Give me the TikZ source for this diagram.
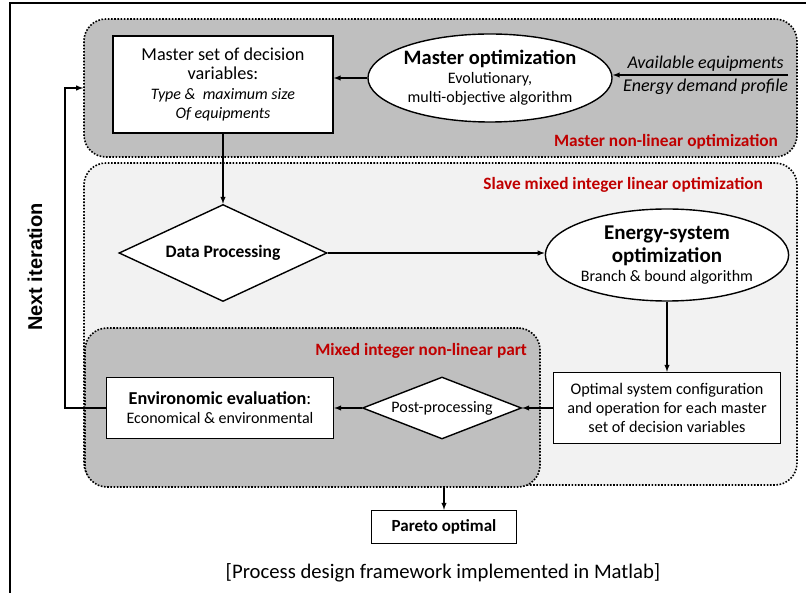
\documentclass[tikz,border=0pt]{standalone}
\usepackage{fontspec}
\setmainfont{Carlito}
\newfontfamily\arialfont{Liberation Sans}
\usetikzlibrary{shapes.geometric}

\definecolor{groupdark}{RGB}{191,191,191}
\definecolor{grouplight}{RGB}{242,242,242}
\definecolor{titlered}{RGB}{192,0,0}

\begin{document}
\begin{tikzpicture}[> = latex, x = 1pt, y = -1pt, line width = 1.4pt,
	box/.style = {draw, fill = white, align = center, inner sep = 2pt},
	oval/.style = {draw, ellipse, fill = white, align = center, inner sep = 0pt},
	decision/.style = {draw, diamond, fill = white, align = center, inner sep = 0pt},
	group/.style = {draw, rounded corners = 22pt, line width = 1.6pt, dash pattern = on 1.6pt off 1.6pt},
	grouptitle/.style = {anchor = east, text = titlered, font = \fontsize{17.3}{20}\selectfont\bfseries}]

	\useasboundingbox (0, 0) rectangle (806, 593);

	% Frame
	
	\draw [line width = 2.4pt] (806, 3) -| (10, 593);

	% Groups
	
		\node (master) [group, fill = groupdark, minimum width = 713, minimum height = 138] at (440.5, 88) {};
		\node (slave) [group, fill = grouplight, minimum width = 713, minimum height = 322] at (440.5, 324) {};
		\node (mixed) [group, fill = groupdark, minimum width = 455, minimum height = 159] at (312.5, 407.5) {};
		
		\node (mastertitle) [grouptitle] at (782, 142) {Master non-linear optimization};
		\node (slavetitle) [grouptitle] at (767, 185) {Slave mixed integer linear optimization};
		\node (mixedtitle) [grouptitle] at (531, 351) {Mixed integer non-linear part};

	% Master optimization
	
		\node (masterset) [box, minimum width = 220, minimum height = 97, font = \fontsize{18.2}{19.5}\selectfont] at (223, 84.5) {Master set of decision\\variables:\\{\fontsize{16}{17}\selectfont\itshape Type \&\ \ maximum size}\\{\fontsize{16}{17}\selectfont\itshape Of equipments}};
		\node (masteropt) [oval, minimum width = 235, minimum height = 88, font = \fontsize{16}{19}\selectfont] at (490, 78) {{\fontsize{20.5}{22}\selectfont\bfseries Master optimization}\\Evolutionary,\\multi-objective algorithm};
		\coordinate (inputs) at (788, 75);

	% Slave optimization
	
		\node (dataproc) [decision, aspect = 2.15, minimum width = 208, minimum height = 97, font = \fontsize{17.5}{18}\selectfont\bfseries] at (223, 253) {Data Processing};
		\node (energyopt) [oval, minimum width = 237, minimum height = 92, font = \fontsize{16}{19}\selectfont] at (667, 255) {{\fontsize{21}{24}\selectfont\bfseries Energy-system}\\[4pt]{\fontsize{21}{24}\selectfont\bfseries optimization}\\Branch \& bound algorithm};
		\node (optconfig) [box, minimum width = 227, minimum height = 71, font = \fontsize{16.2}{19}\selectfont] at (667, 408) {Optimal system configuration\\and operation for each master\\set of decision variables};

	% Non-linear part
	
		\node (postproc) [decision, aspect = 2.55, minimum width = 159, minimum height = 62, font = \fontsize{16}{18}\selectfont] at (442, 408) {Post-processing};
		\node (enveval) [box, minimum width = 227, minimum height = 61, font = \fontsize{16}{19}\selectfont] at (220, 408) {{\fontsize{18.2}{20}\selectfont\bfseries Environomic evaluation}{\fontsize{18.2}{20}\selectfont :}\\Economical \& environmental};
		\node (pareto) [box, minimum width = 145, minimum height = 33, font = \fontsize{17}{19}\selectfont\bfseries] at (444, 527) {Pareto optimal};

	% Labels
	
	\node (nextiter) [rotate = 90, font = \arialfont\fontsize{20}{24}\selectfont\bfseries] at (35, 267) {Next iteration};
	\node (caption) [font = \fontsize{20.7}{24}\selectfont] at (443, 573) {[Process design framework implemented in Matlab]};

	% Arrows
	
	\begin{scope}[->]
	
		\draw (inputs) -- node [pos = 0.47, above, font = \fontsize{18}{20}\selectfont\itshape] {Available equipments} node [pos = 0.47, below, font = \fontsize{18}{20}\selectfont\itshape] {Energy demand profile} (inputs -| masteropt.east);
		\draw (masteropt.west) -- (masteropt.west -| masterset.east);
		\draw (masterset.south) -- (dataproc.north);
		\draw (dataproc.east) -- (dataproc.east -| energyopt.west);
		\draw (energyopt.south) -- (optconfig.north);
		\draw (optconfig.west) -- (postproc.east);
		\draw (postproc.west) -- (enveval.east);
		\draw (enveval.west) -- ++(-41, 0) |- (master.west);
		\draw (mixed.south -| pareto.north) -- (pareto.north);
	
	\end{scope}

\end{tikzpicture}
\end{document}
